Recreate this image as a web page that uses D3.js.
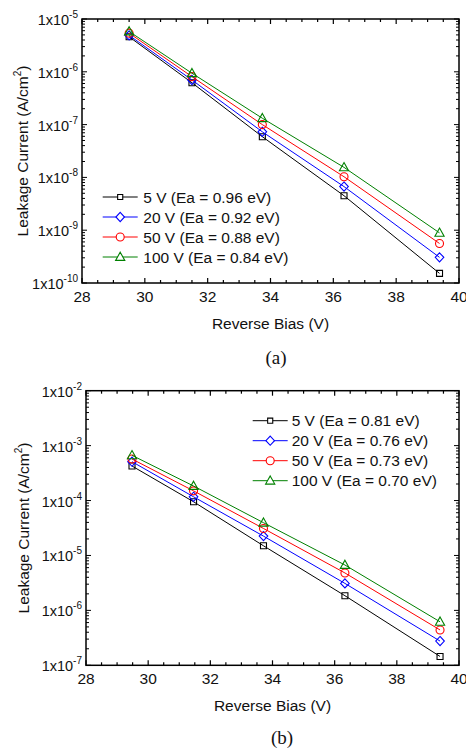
<!DOCTYPE html>
<html>
<head>
<meta charset="utf-8">
<script src="https://cdn.jsdelivr.net/npm/d3@7"></script>
<style>
  body { margin: 0; background: #fff; }
  svg { display: block; }
  text { font-family: "Liberation Sans", Arial, sans-serif; fill: #111; }
</style>
</head>
<body>
<div></div>
<script>
const width = 466;
const height = 750;

// reverse bias values (x), shared by both panels
const biasA = [29.5, 31.5, 33.74, 36.34, 39.38];
const biasB = [29.48, 31.46, 33.71, 36.33, 39.39];

// panel (a) leakage current, A/cm^2
const a5 = [4.6e-6, 6.2e-7, 5.9e-8, 4.5e-9, 1.52e-10];
const a20 = [4.9e-6, 7.0e-7, 7.3e-8, 6.7e-9, 3.06e-10];
const a50 = [5.4e-6, 8.1e-7, 1.0e-7, 1.03e-8, 5.6e-10];
const a100 = [5.8e-6, 9.4e-7, 1.32e-7, 1.55e-8, 8.9e-10];
const labelsA = ["5 V (Ea = 0.96 eV)", "20 V (Ea = 0.92 eV)", "50 V (Ea = 0.88 eV)", "100 V (Ea = 0.84 eV)"];

// panel (b)
const b5 = [4.25e-4, 9.5e-5, 1.5e-5, 1.85e-6, 1.45e-7];
const b20 = [5.1e-4, 1.17e-4, 2.25e-5, 3.1e-6, 2.76e-7];
const b50 = [5.7e-4, 1.5e-4, 3.1e-5, 4.8e-6, 4.4e-7];
const b100 = [6.65e-4, 1.84e-4, 3.95e-5, 6.7e-6, 6.2e-7];
const labelsB = ["5 V (Ea = 0.81 eV)", "20 V (Ea = 0.76 eV)", "50 V (Ea = 0.73 eV)", "100 V (Ea = 0.70 eV)"];

const xTicks = [28, 30, 32, 34, 36, 38, 40];
const colors = ["#000000", "#0000ff", "#ff0000", "#008000"];
const shapes = ["square", "diamond", "circle", "triangle"];

const svg = d3.select("div").append("svg").attr("width", width).attr("height", height);

function markerPath(shape, s) {
  // s = size scale
  if (shape === "square") return `M${-3 * s},${-3 * s}h${6 * s}v${6 * s}h${-6 * s}Z`;
  if (shape === "diamond") return `M0,${-4.6 * s}L${4.3 * s},0L0,${4.6 * s}L${-4.3 * s},0Z`;
  if (shape === "triangle") return `M0,${-4.8 * s}L${4.6 * s},${3.4 * s}L${-4.6 * s},${3.4 * s}Z`;
  const r = 4 * s;
  return `M${r},0A${r},${r} 0 1,1 ${-r},0A${r},${r} 0 1,1 ${r},0Z`;
}

function drawPanel(p) {
  const x = d3.scaleLinear().domain([28, 40]).range([p.left, p.right]);
  const y = d3.scaleLog().domain(p.yDomain).range([p.bottom, p.top]);
  const g = svg.append("g");

  // series lines and markers
  p.series.forEach((vals, i) => {
    const pts = vals.map((v, j) => [p.bias[j], v]);
    g.append("path")
      .attr("d", d3.line().x((d) => x(d[0])).y((d) => y(d[1]))(pts))
      .attr("fill", "none")
      .attr("stroke", colors[i])
      .attr("stroke-width", 1);
    g.selectAll(".m" + i)
      .data(pts)
      .enter()
      .append("path")
      .attr("transform", (d) => `translate(${x(d[0])},${y(d[1])})`)
      .attr("d", markerPath(shapes[i], 1))
      .attr("fill", "none")
      .attr("stroke", colors[i])
      .attr("stroke-width", 1.1);
  });

  // frame
  g.append("rect")
    .attr("x", p.left).attr("y", p.top)
    .attr("width", p.right - p.left).attr("height", p.bottom - p.top)
    .attr("fill", "none").attr("stroke", "#000").attr("stroke-width", 1.5);

  // x ticks (bottom + top, inward)
  d3.range(28, 40.01, 0.5).forEach((t) => {
    const major = Math.abs(t % 2) < 1e-6;
    const len = major ? 5 : 3;
    g.append("line").attr("x1", x(t)).attr("x2", x(t))
      .attr("y1", p.bottom).attr("y2", p.bottom - len).attr("stroke", "#000").attr("stroke-width", 1.2);
    g.append("line").attr("x1", x(t)).attr("x2", x(t))
      .attr("y1", p.top).attr("y2", p.top + len).attr("stroke", "#000").attr("stroke-width", 1.2);
  });
  g.selectAll(".xl")
    .data(xTicks)
    .enter()
    .append("text")
    .attr("x", (d) => x(d))
    .attr("y", p.bottom + 19)
    .attr("text-anchor", "middle")
    .attr("font-size", "15.5px")
    .text((d) => d);

  // y ticks (log, left + right, inward)
  y.ticks().forEach((t) => {
    const lg = Math.log10(t);
    const major = Math.abs(lg - Math.round(lg)) < 1e-6;
    const len = major ? 5 : 3;
    g.append("line").attr("x1", p.left).attr("x2", p.left + len)
      .attr("y1", y(t)).attr("y2", y(t)).attr("stroke", "#000").attr("stroke-width", 1);
    g.append("line").attr("x1", p.right).attr("x2", p.right - len)
      .attr("y1", y(t)).attr("y2", y(t)).attr("stroke", "#000").attr("stroke-width", 1);
    if (major) {
      const lab = g.append("text")
        .attr("x", p.left - 4)
        .attr("y", y(t) + 6)
        .attr("text-anchor", "end")
        .attr("font-size", "14.5px");
      lab.append("tspan").text("1x10");
      lab.append("tspan").attr("dy", -7).attr("font-size", "10px").text(Math.round(lg));
    }
  });

  // axis titles
  g.append("text")
    .attr("x", (p.left + p.right) / 2)
    .attr("y", p.bottom + 46)
    .attr("text-anchor", "middle")
    .attr("font-size", "15.5px")
    .text("Reverse Bias (V)");
  const yt = g.append("text")
    .attr("transform", `translate(${p.yTitleX},${(p.top + p.bottom) / 2}) rotate(-90)`)
    .attr("text-anchor", "middle")
    .attr("font-size", "15.5px");
  yt.append("tspan").text("Leakage Current (A/cm");
  yt.append("tspan").attr("dy", -7).attr("font-size", "10px").text("2");
  yt.append("tspan").attr("dy", 7).text(")");

  // legend
  p.labels.forEach((lab, i) => {
    const ry = p.legY + i * p.legStep;
    g.append("line").attr("x1", p.legX).attr("x2", p.legX + 35)
      .attr("y1", ry).attr("y2", ry).attr("stroke", colors[i]).attr("stroke-width", 1);
    g.append("path")
      .attr("transform", `translate(${p.legX + 17.5},${ry})`)
      .attr("d", markerPath(shapes[i], i === 0 ? 0.85 : 1))
      .attr("fill", "#fff")
      .attr("stroke", colors[i])
      .attr("stroke-width", 1.1);
    g.append("text")
      .attr("x", p.legX + p.legGap)
      .attr("y", ry + 5.5)
      .attr("font-size", "15.5px")
      .text(lab);
  });

  // caption
  g.append("text")
    .attr("x", p.capX)
    .attr("y", p.capY)
    .attr("text-anchor", "middle")
    .attr("font-size", "19px")
    .style("font-family", "'Liberation Serif', 'Times New Roman', serif")
    .text(p.caption);
}

drawPanel({
  left: 82, right: 459, top: 19, bottom: 283,
  yDomain: [1e-10, 1e-5],
  bias: biasA,
  series: [a5, a20, a50, a100],
  labels: labelsA,
  legX: 102.7, legY: 197, legStep: 20, legGap: 40.6,
  yTitleX: 28,
  caption: "(a)", capX: 276, capY: 364
});

drawPanel({
  left: 86, right: 459, top: 390.7, bottom: 665.3,
  yDomain: [1e-7, 1e-2],
  bias: biasB,
  series: [b5, b20, b50, b100],
  labels: labelsB,
  legX: 252.7, legY: 420.7, legStep: 20, legGap: 39,
  yTitleX: 29,
  caption: "(b)", capX: 282, capY: 744
});
</script>
</body>
</html>
